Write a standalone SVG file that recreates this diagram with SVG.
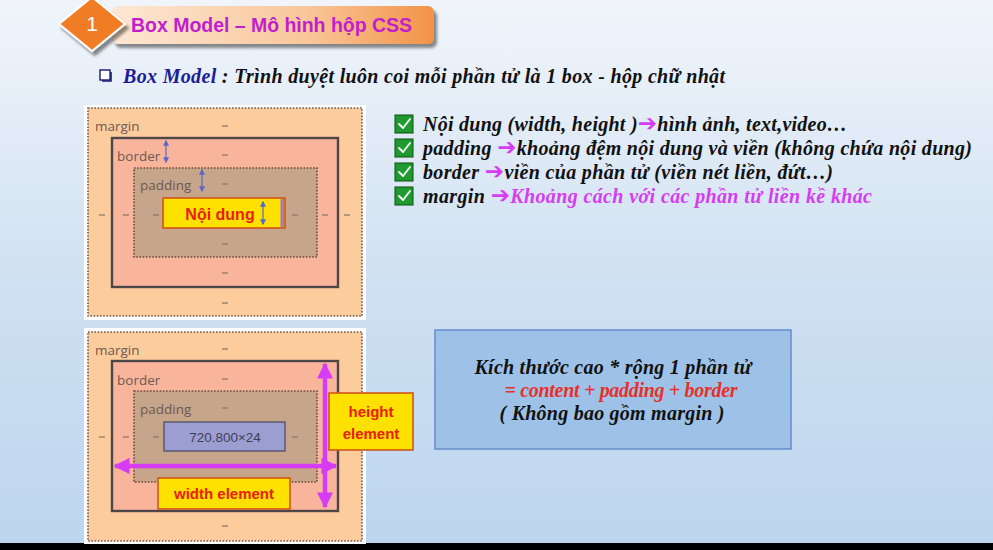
<svg xmlns="http://www.w3.org/2000/svg" width="993" height="550" viewBox="0 0 993 550">
  <defs>
    <linearGradient id="bg" x1="0" y1="0" x2="0" y2="1">
      <stop offset="0" stop-color="#f1f5fb"/>
      <stop offset="0.5" stop-color="#d0e1f2"/>
      <stop offset="1" stop-color="#bcd5ee"/>
    </linearGradient>
    <linearGradient id="titleBar" x1="0" y1="0" x2="1" y2="0">
      <stop offset="0" stop-color="#fde7d4"/>
      <stop offset="0.6" stop-color="#f9c79b"/>
      <stop offset="1" stop-color="#f29347"/>
    </linearGradient>
    <filter id="shadow" x="-10%" y="-10%" width="130%" height="140%">
      <feGaussianBlur in="SourceAlpha" stdDeviation="1.5"/>
      <feOffset dx="3" dy="4" result="o"/>
      <feComponentTransfer><feFuncA type="linear" slope="0.45"/></feComponentTransfer>
      <feMerge><feMergeNode/><feMergeNode in="SourceGraphic"/></feMerge>
    </filter>
    <marker id="magHead" viewBox="0 0 10 10" refX="9" refY="5" markerWidth="3.6" markerHeight="3.6" orient="auto-start-reverse" markerUnits="strokeWidth">
      <path d="M0,0 L10,5 L0,10 Z" fill="#d63cf5"/>
    </marker>
    <marker id="blueHead" viewBox="0 0 10 10" refX="8" refY="5" markerWidth="5" markerHeight="5" orient="auto-start-reverse" markerUnits="strokeWidth">
      <path d="M0,0 L10,5 L0,10 Z" fill="#5868c8"/>
    </marker>
  </defs>
  <style>
    .serif { font-family: "Liberation Serif", "Times New Roman", serif; font-weight: bold; font-style: italic; }
    .sans { font-family: "Liberation Sans", Arial, sans-serif; }
    .lbl { font-family: "Open Sans", "Liberation Sans", sans-serif; font-size: 13.5px; fill: #6b5a55; }
    .dash { stroke: #8a7a70; stroke-width: 1.3; }
    .marginBox { fill: #fdcc9d; stroke: #6a5a50; stroke-width: 1.6; stroke-dasharray: 1.6 1.6; }
    .frame { fill: #ffffff; }
    .borderBox { fill: #f9b59c; stroke: #4d4748; stroke-width: 2.4; }
    .padBox { fill: #c7a58a; stroke: #6a4a3a; stroke-width: 1.6; stroke-dasharray: 1.6 1.6; }
    .yellow { fill: #ffe100; stroke: #d0561a; stroke-width: 1.6; }
    .redTxt { fill: #e8200c; font-weight: bold; }
    .check { fill: #1f9a2f; stroke: #0c4d14; stroke-width: 1; }
    .tick { fill: none; stroke: #ffffff; stroke-width: 1.8; stroke-linecap: round; stroke-linejoin: round; }
    .magArrow { stroke: #d63cf5; stroke-width: 4.5; fill: none; marker-start: url(#magHead); marker-end: url(#magHead); }
    .blueArrow { stroke: #5868c8; stroke-width: 1.2; fill: none; marker-start: url(#blueHead); marker-end: url(#blueHead); }
    .item { font-size: 20px; fill: #111; }
    .arr { fill: #d63cf5; font-family: "DejaVu Sans", sans-serif; font-style: normal; font-weight: bold; font-size: 23px; }
  </style>

  <!-- background -->
  <rect x="0" y="0" width="993" height="550" fill="url(#bg)"/>
  <rect x="0" y="543" width="993" height="7" fill="#000"/>

  <!-- title -->
  <g id="title">
    <rect x="112" y="6" width="322" height="38" rx="6" fill="url(#titleBar)" filter="url(#shadow)"/>
    <polygon points="92,-3 125,24 92,51 59,24" fill="#f07d28" stroke="#ffffff" stroke-width="2" filter="url(#shadow)"/>
    <text x="92" y="31" class="sans" font-size="21" fill="#ffffff" text-anchor="middle">1</text>
    <text x="131" y="32" class="sans" font-size="19.5" font-weight="bold" fill="#c21fcc" textLength="281">Box Model – Mô hình hộp CSS</text>
  </g>

  <!-- subtitle -->
  <g id="subtitle">
    <rect x="100" y="70" width="10" height="10" fill="#ffffff" stroke="#1a1a6e" stroke-width="1.4"/>
    <path d="M111,72 V81 H102" fill="none" stroke="#1a1a6e" stroke-width="1.6"/>
    <text x="123" y="83" class="serif" font-size="20" fill="#111" textLength="602"><tspan fill="#1c1c96">Box Model</tspan> : Trình duyệt luôn coi mỗi phần tử là 1 box -  hộp chữ nhật</text>
  </g>

  <!-- box model panel (top) -->
  <g id="box-model-top">
    <rect class="frame" x="84" y="105" width="282" height="215"/>
    <rect class="marginBox" x="88" y="108" width="274" height="208"/>
    <rect class="borderBox" x="112" y="138" width="226" height="149"/>
    <rect class="padBox" x="134" y="168" width="183" height="89"/>
    <rect class="yellow" x="163" y="198" width="122" height="30"/>
    <rect x="280.5" y="199" width="3.5" height="28" fill="#a07ad0"/>
    <text class="lbl" x="95" y="131">margin</text>
    <text class="lbl" x="117" y="161">border</text>
    <text class="lbl" x="140" y="190">padding</text>
    <text class="sans redTxt" x="220" y="220" font-size="16" text-anchor="middle">Nội dung</text>
    <g>
      <line class="dash" x1="222" y1="126" x2="228" y2="126"/>
      <line class="dash" x1="222" y1="155" x2="228" y2="155"/>
      <line class="dash" x1="222" y1="184" x2="228" y2="184"/>
      <line class="dash" x1="222" y1="244" x2="228" y2="244"/>
      <line class="dash" x1="222" y1="273" x2="228" y2="273"/>
      <line class="dash" x1="222" y1="303" x2="228" y2="303"/>
      <line class="dash" x1="99" y1="215" x2="105" y2="215"/>
      <line class="dash" x1="123" y1="215" x2="129" y2="215"/>
      <line class="dash" x1="153" y1="215" x2="159" y2="215"/>
      <line class="dash" x1="292" y1="215" x2="298" y2="215"/>
      <line class="dash" x1="322" y1="215" x2="328" y2="215"/>
      <line class="dash" x1="344" y1="215" x2="350" y2="215"/>
    </g>
  </g>

  <!-- box model panel (bottom) -->
  <g id="box-model-bottom">
    <rect class="frame" x="84" y="328" width="282" height="216"/>
    <rect class="marginBox" x="88" y="332" width="274" height="209"/>
    <rect class="borderBox" x="112" y="361" width="226" height="150"/>
    <rect class="padBox" x="134" y="391" width="183" height="91"/>
    <rect x="164" y="422" width="121" height="29" fill="#9c9ed2" stroke="#55556a" stroke-width="1.4"/>
    <text class="lbl" x="95" y="355">margin</text>
    <text class="lbl" x="117" y="385">border</text>
    <text class="lbl" x="140" y="414">padding</text>
    <text class="sans" x="225" y="442" font-size="13.5" fill="#3e3e5a" text-anchor="middle">720.800×24</text>
    <g>
      <line class="dash" x1="222" y1="349" x2="228" y2="349"/>
      <line class="dash" x1="222" y1="379" x2="228" y2="379"/>
      <line class="dash" x1="222" y1="408" x2="228" y2="408"/>
      <line class="dash" x1="222" y1="526" x2="228" y2="526"/>
      <line class="dash" x1="99" y1="437" x2="105" y2="437"/>
      <line class="dash" x1="123" y1="437" x2="129" y2="437"/>
      <line class="dash" x1="153" y1="437" x2="159" y2="437"/>
      <line class="dash" x1="292" y1="437" x2="298" y2="437"/>
    </g>
  </g>

  <!-- size arrows and small measure marks -->
  <g id="connectors">
    <line class="blueArrow" x1="166" y1="141" x2="166" y2="162"/>
    <line class="blueArrow" x1="202" y1="170" x2="202" y2="191"/>
    <line class="blueArrow" x1="263" y1="202" x2="263" y2="224"/>
    <line class="magArrow" x1="115" y1="466" x2="336" y2="466"/>
    <line class="magArrow" x1="325" y1="364" x2="325" y2="507"/>
  </g>

  <g id="width-element">
    <rect class="yellow" x="158" y="478" width="132" height="31"/>
    <text class="sans redTxt" x="224" y="499" font-size="15" text-anchor="middle">width element</text>
  </g>

  <g id="height-element">
    <rect class="yellow" x="329" y="393" width="84" height="57"/>
    <text class="sans redTxt" x="371" y="417" font-size="15" text-anchor="middle">height</text>
    <text class="sans redTxt" x="371" y="439" font-size="15" text-anchor="middle">element</text>
  </g>

  <!-- checklist -->
  <g id="checklist" class="serif">
    <g>
      <rect class="check" x="395" y="115" width="18" height="18"/>
      <polyline class="tick" points="399,124 403,128 410,119"/>
      <text class="item" x="423" y="131" textLength="424">Nội dung (width, height )<tspan class="arr">➔</tspan>hình ảnh, text,video…</text>
    </g>
    <g>
      <rect class="check" x="395" y="139" width="18" height="18"/>
      <polyline class="tick" points="399,148 403,152 410,143"/>
      <text class="item" x="423" y="155" textLength="549">padding <tspan class="arr">➔</tspan>khoảng đệm nội dung và viền (không chứa nội dung)</text>
    </g>
    <g>
      <rect class="check" x="395" y="163" width="18" height="18"/>
      <polyline class="tick" points="399,172 403,176 410,167"/>
      <text class="item" x="423" y="179" textLength="410">border <tspan class="arr">➔</tspan>viền của phần tử (viền nét liền, đứt…)</text>
    </g>
    <g>
      <rect class="check" x="395" y="187" width="18" height="18"/>
      <polyline class="tick" points="399,196 403,200 410,191"/>
      <text class="item" x="423" y="203" textLength="449">margin <tspan class="arr">➔</tspan><tspan fill="#d63cf0">Khoảng cách với các phần tử liền kề khác</tspan></text>
    </g>
  </g>

  <!-- formula box -->
  <g id="size-formula">
    <rect x="435" y="330" width="356" height="119" fill="#9ec2e7" stroke="#6b90cf" stroke-width="1.6"/>
    <text class="serif" x="613" y="374" font-size="20" fill="#111" text-anchor="middle" textLength="277">Kích thước cao * rộng 1 phần tử</text>
    <text class="serif" x="621" y="397" font-size="20" fill="#e8302a" text-anchor="middle" textLength="233">= content + padding + border</text>
    <text class="serif" x="612" y="420" font-size="20" fill="#111" text-anchor="middle" textLength="225">( Không bao gồm margin )</text>
  </g>
</svg>
